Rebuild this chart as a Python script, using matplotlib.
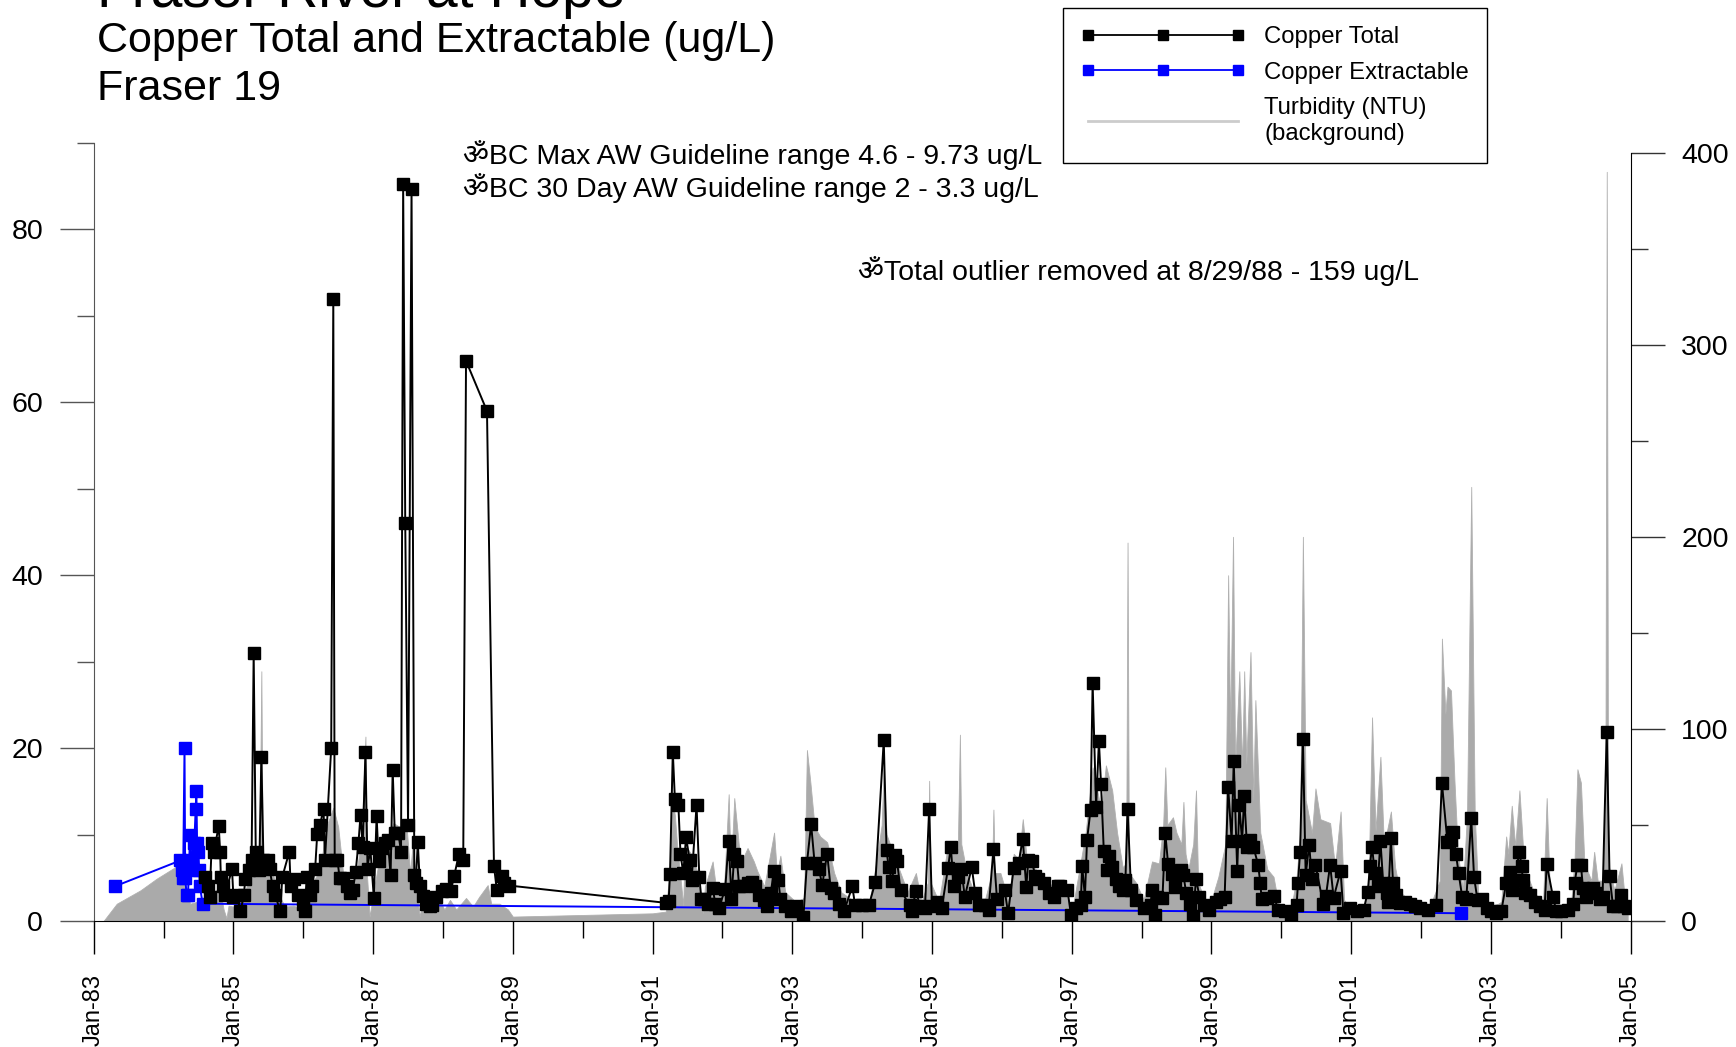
import matplotlib
matplotlib.use('Agg')
import matplotlib.pyplot as plt
from matplotlib.lines import Line2D
from matplotlib.ticker import FixedLocator

plt.rcParams['font.family'] = ['Liberation Sans', 'DejaVu Sans', 'Noto Sans']

# Copper Total (ug/L), dates as decimal years
total_dates = [
    1984.60, 1984.63, 1984.66, 1984.69, 1984.72, 1984.79, 1984.81, 1984.82, 1984.85, 1984.88,
    1984.98, 1985.00, 1985.05, 1985.10, 1985.15, 1985.17, 1985.23, 1985.26, 1985.29, 1985.32,
    1985.37, 1985.40, 1985.43, 1985.49, 1985.52, 1985.56, 1985.60, 1985.67, 1985.70, 1985.80,
    1985.82, 1985.87, 1985.93, 1985.99, 1986.02, 1986.05, 1986.09, 1986.12, 1986.17, 1986.20,
    1986.24, 1986.29, 1986.31, 1986.40, 1986.43, 1986.45, 1986.49, 1986.52, 1986.57, 1986.62,
    1986.67, 1986.71, 1986.75, 1986.79, 1986.82, 1986.85, 1986.89, 1986.92, 1986.96, 1987.01,
    1987.05, 1987.08, 1987.12, 1987.17, 1987.21, 1987.25, 1987.28, 1987.31, 1987.36, 1987.40,
    1987.43, 1987.46, 1987.50, 1987.55, 1987.59, 1987.61, 1987.64, 1987.67, 1987.71, 1987.76,
    1987.81, 1987.85, 1987.90, 1987.98, 1988.05, 1988.11, 1988.16, 1988.23, 1988.29, 1988.33,
    1988.63, 1988.73, 1988.77, 1988.85, 1988.88, 1988.95,
    1991.19, 1991.23, 1991.25, 1991.29, 1991.32, 1991.37, 1991.40, 1991.44, 1991.48, 1991.53,
    1991.56, 1991.63, 1991.67, 1991.70, 1991.74, 1991.79, 1991.86, 1991.90, 1991.95, 1992.04,
    1992.09, 1992.13, 1992.17, 1992.21, 1992.24, 1992.30, 1992.36, 1992.43, 1992.47, 1992.52,
    1992.60, 1992.64, 1992.69, 1992.74, 1992.80, 1992.83, 1992.90, 1992.98, 1993.05, 1993.16,
    1993.21, 1993.27, 1993.32, 1993.38, 1993.43, 1993.50, 1993.55, 1993.60, 1993.67, 1993.74,
    1993.86, 1993.90, 1994.00, 1994.10, 1994.19, 1994.31, 1994.35, 1994.38, 1994.43, 1994.47,
    1994.50, 1994.55, 1994.68, 1994.71, 1994.77, 1994.83, 1994.90, 1994.96, 1995.00, 1995.07,
    1995.14, 1995.23, 1995.27, 1995.31, 1995.37, 1995.42, 1995.47, 1995.57, 1995.62, 1995.67,
    1995.76, 1995.81, 1995.88, 1995.93, 1996.04, 1996.09, 1996.17, 1996.24, 1996.30, 1996.35,
    1996.38, 1996.43, 1996.48, 1996.52, 1996.60, 1996.67, 1996.74, 1996.80, 1996.84, 1996.94,
    1996.99, 1997.06, 1997.13, 1997.15, 1997.19, 1997.22, 1997.27, 1997.30, 1997.35, 1997.39,
    1997.42, 1997.46, 1997.51, 1997.54, 1997.58, 1997.63, 1997.68, 1997.73, 1997.77, 1997.80,
    1997.85, 1997.92, 1998.03, 1998.13, 1998.15, 1998.19, 1998.22, 1998.30, 1998.34, 1998.38,
    1998.44, 1998.48, 1998.56, 1998.60, 1998.64, 1998.70, 1998.74, 1998.78, 1998.83, 1998.89,
    1998.96, 1999.06, 1999.13, 1999.19, 1999.24, 1999.29, 1999.32, 1999.37, 1999.40, 1999.44,
    1999.47, 1999.51, 1999.56, 1999.60, 1999.67, 1999.70, 1999.72, 1999.80, 1999.89, 1999.96,
    2000.06, 2000.14, 2000.22, 2000.24, 2000.27, 2000.31, 2000.35, 2000.40, 2000.44, 2000.49,
    2000.60, 2000.64, 2000.70, 2000.75, 2000.85, 2000.89, 2000.99, 2001.08, 2001.18, 2001.24,
    2001.27, 2001.30, 2001.34, 2001.38, 2001.42, 2001.46, 2001.51, 2001.53, 2001.57, 2001.60,
    2001.65, 2001.70, 2001.77, 2001.84, 2001.91, 2001.99, 2002.10, 2002.22, 2002.30, 2002.38,
    2002.43, 2002.46, 2002.50, 2002.54, 2002.59, 2002.65, 2002.72, 2002.76, 2002.81, 2002.88,
    2002.94, 2003.01, 2003.08, 2003.15, 2003.22, 2003.27, 2003.30, 2003.34, 2003.41, 2003.44,
    2003.46, 2003.49, 2003.56, 2003.63, 2003.70, 2003.77, 2003.80, 2003.89, 2003.94, 2004.01,
    2004.10, 2004.18, 2004.20, 2004.24, 2004.29, 2004.32, 2004.37, 2004.41, 2004.46, 2004.51,
    2004.57, 2004.60, 2004.66, 2004.70, 2004.75, 2004.81, 2004.87, 2004.91, 2004.96,
]
total_ugL = [
    5.1, 4.0, 2.8, 9.0, 8.0, 11.0, 8.0, 5.1, 4.0, 3.0,
    6.0, 2.8, 3.0, 1.1, 3.0, 4.9, 5.9, 7.0, 31.0, 8.0,
    5.9, 19.0, 7.0, 7.0, 6.0, 4.0, 3.0, 1.1, 5.1, 8.0,
    4.0, 4.9, 3.0, 2.0, 1.1, 5.1, 3.0, 4.0, 6.0, 10.1,
    11.1, 13.0, 7.0, 20.0, 72.0, 7.0, 7.0, 5.0, 5.0, 4.0,
    3.2, 3.6, 5.7, 9.0, 12.3, 8.6, 19.5, 6.0, 8.4, 2.7,
    12.1, 6.9, 8.4, 9.0, 9.4, 5.3, 17.5, 10.2, 10.2, 8.0,
    85.2, 46.0, 11.1, 84.7, 5.3, 4.4, 9.1, 4.0, 2.9, 2.0,
    1.7, 1.8, 2.8, 3.5, 3.7, 3.5, 5.2, 7.8, 7.0, 64.8,
    59.0, 6.4, 3.6, 5.2, 4.4, 4.1,
    2.1, 2.3, 5.4, 19.6, 14.1, 13.4, 7.8, 5.5, 9.7, 7.1,
    4.8, 13.4, 5.1, 2.5, 2.5, 2.0, 3.8, 2.0, 1.5, 3.7,
    9.3, 2.6, 7.7, 6.9, 4.0, 4.0, 4.4, 4.5, 4.0, 3.0,
    2.4, 1.7, 3.2, 5.8, 4.8, 2.6, 1.7, 1.1, 1.7, 0.5,
    6.7, 11.2, 6.7, 6.0, 4.2, 7.8, 3.8, 3.2, 2.0, 1.1,
    4.0, 1.8, 1.8, 1.9, 4.5, 20.9, 8.2, 6.2, 4.6, 7.6,
    6.9, 3.6, 1.8, 1.1, 3.5, 1.7, 1.5, 13.0, 1.7, 2.2,
    1.5, 6.1, 8.6, 4.0, 5.1, 6.0, 2.8, 6.2, 3.2, 1.8,
    1.8, 1.3, 8.3, 2.6, 3.6, 0.9, 6.1, 6.7, 9.5, 3.9,
    7.1, 6.9, 5.2, 4.9, 4.4, 3.2, 2.8, 4.0, 4.0, 3.6,
    0.7, 1.5, 1.8, 6.4, 2.8, 9.4, 12.8, 27.5, 13.2, 20.8,
    15.9, 8.1, 5.9, 7.5, 6.3, 4.9, 4.0, 3.6, 4.8, 13.0,
    3.6, 2.4, 1.5, 1.8, 3.6, 0.7, 2.8, 2.7, 10.2, 6.6,
    5.4, 3.9, 5.9, 5.3, 3.2, 2.0, 0.6, 4.9, 2.8, 1.8,
    1.3, 2.2, 2.6, 2.8, 15.5, 9.3, 18.5, 5.8, 13.4, 9.2,
    14.5, 8.6, 9.4, 8.6, 6.5, 4.4, 2.5, 2.7, 2.9, 1.3,
    1.1, 0.7, 1.8, 4.4, 8.0, 21.1, 5.3, 8.8, 4.9, 6.5,
    2.0, 2.9, 6.5, 2.7, 5.8, 0.9, 1.5, 1.1, 1.3, 3.4,
    6.4, 8.6, 5.5, 4.0, 9.3, 4.4, 3.2, 2.2, 9.6, 4.4,
    3.0, 2.1, 2.2, 2.0, 1.7, 1.5, 1.3, 1.8, 16.0, 9.1,
    9.4, 10.3, 7.8, 5.5, 2.8, 2.6, 11.9, 5.1, 2.4, 2.6,
    1.5, 1.1, 0.9, 1.1, 4.4, 5.7, 3.6, 4.8, 8.0, 6.4,
    4.7, 3.2, 3.0, 2.2, 1.7, 1.3, 6.6, 2.8, 1.1, 1.1,
    1.3, 2.0, 4.4, 6.5, 6.5, 3.8, 2.8, 3.6, 3.8, 3.2,
    2.6, 2.8, 21.9, 5.2, 1.7, 1.7, 3.0, 1.7, 1.5,
]

# Copper Extractable (ug/L)
ext_dates = [1983.30, 1984.24, 1984.26, 1984.28, 1984.30, 1984.31, 1984.33, 1984.35, 1984.38, 1984.40,
             1984.42, 1984.44, 1984.46, 1984.47, 1984.48, 1984.50, 1984.51, 1984.52, 1984.56, 2002.57]
ext_ugL = [4.0, 7.0, 5.9, 5.0, 20.0, 5.0, 3.0, 3.0, 10.0, 7.0,
           5.9, 9.0, 13.0, 15.0, 9.0, 8.0, 5.9, 4.0, 2.0, 0.9]

# Turbidity (NTU), background
turb_dates = [
    1983.14, 1983.33, 1983.67, 1983.90, 1984.21, 1984.30, 1984.38, 1984.57, 1984.70, 1984.80,
    1984.86, 1984.90, 1984.93, 1985.00, 1985.10, 1985.19, 1985.29, 1985.37, 1985.40, 1985.42,
    1985.57, 1985.64, 1985.74, 1985.86, 1986.00, 1986.10, 1986.24, 1986.33, 1986.43, 1986.50,
    1986.57, 1986.67, 1986.76, 1986.83, 1986.89, 1986.91, 1986.95, 1987.00, 1987.10, 1987.19,
    1987.29, 1987.38, 1987.48, 1987.53, 1987.57, 1987.62, 1987.67, 1987.71, 1987.76, 1987.86,
    1987.95, 1988.02, 1988.10, 1988.19, 1988.33, 1988.43, 1988.52, 1988.64, 1988.69, 1988.81,
    1988.93, 1989.00, 1991.00, 1991.19, 1991.24, 1991.29, 1991.32, 1991.35, 1991.44, 1991.46,
    1991.55, 1991.65, 1991.72, 1991.75, 1991.86, 1991.92, 1992.02, 1992.09, 1992.12, 1992.17,
    1992.21, 1992.26, 1992.36, 1992.45, 1992.50, 1992.60, 1992.74, 1992.78, 1992.83, 1992.90,
    1993.05, 1993.17, 1993.21, 1993.26, 1993.32, 1993.40, 1993.50, 1993.60, 1993.70, 1993.90,
    1994.10, 1994.20, 1994.28, 1994.31, 1994.35, 1994.45, 1994.55, 1994.65, 1994.77, 1994.85,
    1994.94, 1994.96, 1994.98, 1995.10, 1995.23, 1995.33, 1995.37, 1995.40, 1995.42, 1995.50,
    1995.60, 1995.75, 1995.86, 1995.88, 1995.90, 1995.98, 1996.10, 1996.17, 1996.24, 1996.30,
    1996.35, 1996.45, 1996.55, 1996.70, 1996.90, 1997.00, 1997.12, 1997.20, 1997.30, 1997.42,
    1997.49, 1997.58, 1997.65, 1997.73, 1997.78, 1997.80, 1997.82, 1997.92, 1998.03, 1998.15,
    1998.25, 1998.31, 1998.34, 1998.37, 1998.45, 1998.50, 1998.57, 1998.60, 1998.63, 1998.67,
    1998.74, 1998.78, 1998.81, 1998.96, 1999.10, 1999.20, 1999.24, 1999.27, 1999.31, 1999.34,
    1999.40, 1999.44, 1999.47, 1999.50, 1999.56, 1999.60, 1999.63, 1999.70, 1999.80, 1999.89,
    1999.96, 2000.14, 2000.22, 2000.27, 2000.31, 2000.35, 2000.44, 2000.49, 2000.56, 2000.70,
    2000.77, 2000.85, 2000.90, 2001.00, 2001.18, 2001.25, 2001.30, 2001.35, 2001.42, 2001.47,
    2001.57, 2001.63, 2001.70, 2001.87, 2002.11, 2002.27, 2002.30, 2002.35, 2002.38, 2002.43,
    2002.48, 2002.53, 2002.60, 2002.66, 2002.72, 2002.77, 2002.82, 2002.97, 2003.15, 2003.22,
    2003.25, 2003.30, 2003.35, 2003.41, 2003.46, 2003.51, 2003.63, 2003.75, 2003.80, 2003.85,
    2003.96, 2004.15, 2004.20, 2004.24, 2004.29, 2004.34, 2004.44, 2004.48, 2004.53, 2004.60,
    2004.64, 2004.66, 2004.68, 2004.77, 2004.87, 2004.92, 2004.96,
]
turb_ntu = [
    0, 9, 16, 22, 29, 20, 9, 11, 14, 18,
    6, 1.5, 8, 7.5, 10, 18, 25, 26.5, 130, 26,
    24, 14, 7.5, 8, 6, 18, 26.5, 49, 59, 49,
    25, 14, 25, 42, 96, 25, 2.3, 14, 35, 42,
    51, 49, 49, 25, 42, 14, 2.3, 14, 7.5, 4,
    11, 6, 11, 6, 12, 7.5, 12.7, 18.7, 9, 9,
    6, 2.3, 4, 4.9, 25, 62, 55, 40, 8, 40,
    35, 25, 4, 18, 31, 14, 15, 66, 25, 64,
    49, 30, 38, 31, 26, 18, 46, 25, 34, 15,
    10, 12, 89, 72, 49, 44, 41, 25, 15, 10,
    9, 30, 50, 80, 45, 35, 25, 15, 25, 10,
    20, 73, 20, 10, 40, 35, 38, 97, 40, 25,
    15, 10, 25, 58, 25, 25, 10, 35, 32, 53,
    35, 28, 25, 19, 19, 4, 29, 46, 80, 58,
    81, 68, 46, 28, 30, 197, 25, 20, 11, 31,
    30, 50, 80, 50, 54, 46, 40, 62, 35, 27,
    40, 68, 20, 6, 23, 40, 180, 98, 200, 80,
    130, 80, 130, 82, 140, 63, 115, 46, 27, 23,
    9, 6, 23, 46, 200, 63, 46, 69, 53, 51,
    28, 57, 11, 6, 7, 21, 106, 47, 85.5, 39,
    57, 28, 15, 10, 6, 21, 147, 108, 122, 120,
    73, 35, 16, 56, 226, 56, 14, 6, 10, 44,
    35, 60, 39, 68, 39, 25, 14, 11, 64, 11,
    6, 9, 33, 79, 72, 30, 21, 36, 21, 21,
    56, 390, 30, 16, 30, 11, 4,
]

year_ticks = list(range(1983, 2006, 2))
year_labels = ['Jan-83', 'Jan-85', 'Jan-87', 'Jan-89', 'Jan-91', 'Jan-93', 'Jan-95',
               'Jan-97', 'Jan-99', 'Jan-01', 'Jan-03', 'Jan-05']

W, H = 1736, 1047
fig = plt.figure(figsize=(W / 100, H / 100), dpi=100)
ax = fig.add_axes([93.7 / W, 1 - 921 / H, (1630.5 - 93.7) / W, (921 - 143) / H])
ax2 = ax.twinx()
ax.set_zorder(ax2.get_zorder() + 1)
ax.patch.set_visible(False)

# turbidity background
ax2.fill_between(turb_dates, turb_ntu, 0, color='#aaaaaa', lw=0.6, edgecolor='#b0b0b0')
ax2.set_ylim(0, 405)
ax2.yaxis.set_major_locator(FixedLocator([0, 100, 200, 300, 400]))
ax2.yaxis.set_minor_locator(FixedLocator([50, 150, 250, 350]))
for s in ['top', 'left', 'bottom']:
    ax2.spines[s].set_visible(False)
ax2.spines['right'].set_bounds(0, 400)
ax2.tick_params(axis='y', which='major', length=24.5, width=1, labelsize=20.5, pad=12, color='#333333')
ax2.tick_params(axis='y', which='minor', length=12.2, width=1, color='#333333')

# copper
ax.plot(ext_dates, ext_ugL, color='#0000ff', lw=1.4, marker='s', ms=8, mec='#0000ff', zorder=3)
ax.plot(total_dates, total_ugL, color='black', lw=1.4, marker='s', ms=8, zorder=4)

ax.set_xlim(1983, 2005)
ax.set_ylim(0, 90)
ax.yaxis.set_major_locator(FixedLocator([0, 20, 40, 60, 80]))
ax.yaxis.set_minor_locator(FixedLocator([10, 30, 50, 70, 90]))
ax.xaxis.set_major_locator(FixedLocator(year_ticks))
ax.xaxis.set_minor_locator(FixedLocator(list(range(1984, 2005, 2))))
ax.set_xticklabels(year_labels, rotation=90, fontsize=17)
ax.spines['top'].set_visible(False)
ax.spines['right'].set_visible(False)
ax.spines['left'].set_color('#555555')
ax.tick_params(axis='y', which='major', length=24.5, width=1, labelsize=20.5, pad=12, color='#555555')
ax.tick_params(axis='y', which='minor', length=12.2, width=1, color='#555555')
ax.tick_params(axis='x', which='major', length=24, width=1, pad=14)
ax.tick_params(axis='x', which='minor', length=12, width=1)

# titles (first line runs off the top edge, as in the original)
fig.text(97 / W, 1 - 7 / H, 'Fraser River at Hope', fontsize=41, va='baseline')
fig.text(97 / W, 1 - 52 / H, 'Copper Total and Extractable (ug/L)', fontsize=31, va='baseline')
fig.text(97 / W, 1 - 100 / H, 'Fraser 19', fontsize=31, va='baseline')

# notes
fig.text(463 / W, 1 - 164 / H, '\u0950BC Max AW Guideline range 4.6 - 9.73 ug/L', fontsize=20.5, va='baseline')
fig.text(463 / W, 1 - 197 / H, '\u0950BC 30 Day AW Guideline range 2 - 3.3 ug/L', fontsize=20.5, va='baseline')
fig.text(858 / W, 1 - 280 / H, '\u0950Total outlier removed at 8/29/88 - 159 ug/L', fontsize=20.5, va='baseline')

handles = [
    Line2D([], [], color='black', lw=1.3, marker='s', ms=6.5),
    Line2D([], [], color='#0000ff', lw=1.3, marker='s', ms=6.5),
    Line2D([], [], color='#cccccc', lw=2),
]
labels = ['Copper Total', 'Copper Extractable', 'Turbidity (NTU)\n(background)']
leg = fig.legend(handles, labels, loc='upper left', bbox_to_anchor=(1063 / W, 1 - 8 / H),
                 bbox_transform=fig.transFigure, borderaxespad=0, fontsize=17.2, numpoints=3,
                 handlelength=6.85, handletextpad=0.82, borderpad=0.76, labelspacing=0.57,
                 fancybox=False, framealpha=1, edgecolor='black')
leg.get_frame().set_linewidth(1)

fig.savefig('out.png', dpi=100)
